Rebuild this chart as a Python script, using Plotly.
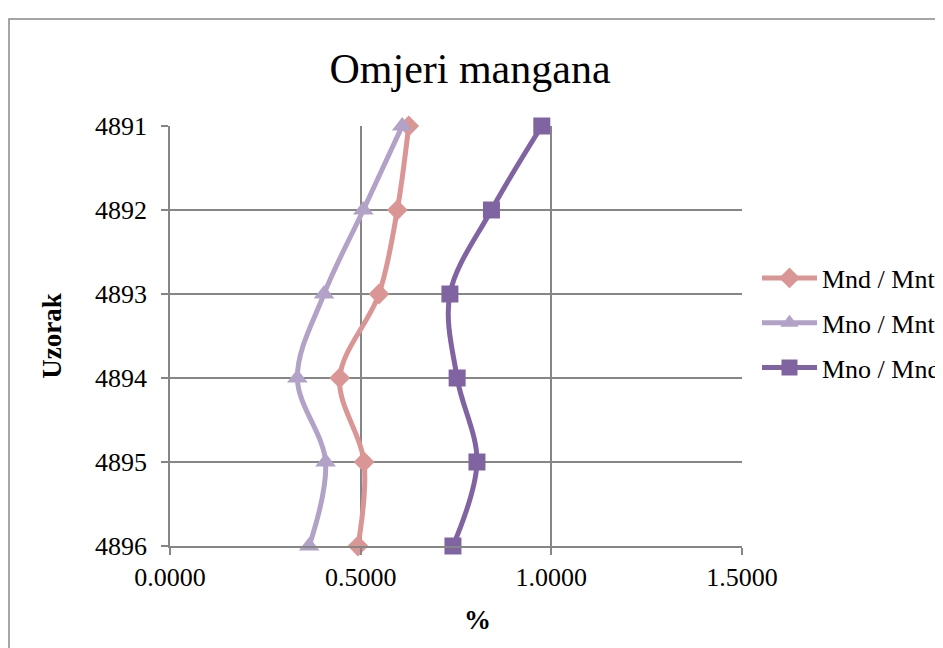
import plotly.graph_objects as go

samples = ["4891", "4892", "4893", "4894", "4895", "4896"]
mnd_mnt = [0.626, 0.596, 0.548, 0.445, 0.509, 0.493]
mno_mnt = [0.609, 0.507, 0.404, 0.334, 0.408, 0.365]
mno_mnd = [0.975, 0.843, 0.734, 0.753, 0.805, 0.742]
x_ticks = [0.0, 0.5, 1.0, 1.5]
x_tick_labels = ["0.0000", "0.5000", "1.0000", "1.5000"]

FONT = "Liberation Serif, Times New Roman, serif"
GRID = "#868686"

# page body has an 8px margin; figure coords = page coords - 8
W, H = 935, 640
L, R, T, B = 162, 734, 118, 538
PW, PH = R - L, B - T

def px(xp):
    return (xp - 8 - L) / PW

def py(yp):
    return (B - (yp - 8)) / PH

fig = go.Figure()
series = [
    ("Mnd / Mnt", mnd_mnt, "#DA9694", "diamond", 16),
    ("Mno / Mnt", mno_mnt, "#B3A2C7", "triangle-up", 18),
    ("Mno / Mnd", mno_mnd, "#8064A2", "square", 17),
]
for name, vals, color, sym, size in series:
    fig.add_trace(go.Scatter(
        x=vals, y=samples, name=name, mode="lines+markers",
        legendgroup=name, cliponaxis=False,
        line=dict(color=color, width=5, shape="spline", smoothing=1.0),
        marker=dict(symbol=sym, size=size, color=color),
    ))

fig.update_layout(
    width=W, height=H,
    margin=dict(l=L, r=W - R, t=T, b=H - B, autoexpand=False),
    paper_bgcolor="white", plot_bgcolor="white",
    font=dict(family=FONT, size=26, color="black"),
    title=dict(text="Omjeri mangana", x=(470 - 8) / W, xanchor="center",
               y=1 - (68 - 8) / H, yanchor="middle",
               font=dict(family=FONT, size=42, color="black")),
    legend=dict(x=px(757), xanchor="left", y=py(323), yanchor="middle",
                font=dict(family=FONT, size=26, color="black"),
                tracegroupgap=8, traceorder="grouped",
                bgcolor="rgba(0,0,0,0)", itemwidth=55),
    xaxis=dict(range=[0, 1.5], tickvals=x_ticks, ticktext=x_tick_labels,
               showgrid=True, gridcolor=GRID, gridwidth=1.5,
               showline=True, linecolor=GRID, linewidth=1.5,
               ticks="outside", ticklen=7, tickcolor=GRID, tickwidth=1.5,
               zeroline=False, fixedrange=True),
    yaxis=dict(type="category", categoryarray=samples, range=[5, 0],
               showgrid=True, gridcolor=GRID, gridwidth=1.5,
               showline=True, linecolor=GRID, linewidth=1.5,
               ticks="outside", ticklen=7, tickcolor=GRID, tickwidth=1.5,
               ticklabelstandoff=9,
               zeroline=False, fixedrange=True,
               title=dict(text="<b>Uzorak</b>", standoff=26,
                          font=dict(family=FONT, size=27))),
    annotations=[dict(text="<b>%</b>", xref="paper", yref="paper",
                      x=px(477), y=py(620), xanchor="center", yanchor="middle",
                      showarrow=False, font=dict(family=FONT, size=27))],
    shapes=[dict(type="rect", xref="paper", yref="paper",
                 x0=px(9), x1=1.5, y0=-0.5, y1=py(19),
                 line=dict(color="#888888", width=1.5), layer="below")],
)

fig.write_html("out.html")
